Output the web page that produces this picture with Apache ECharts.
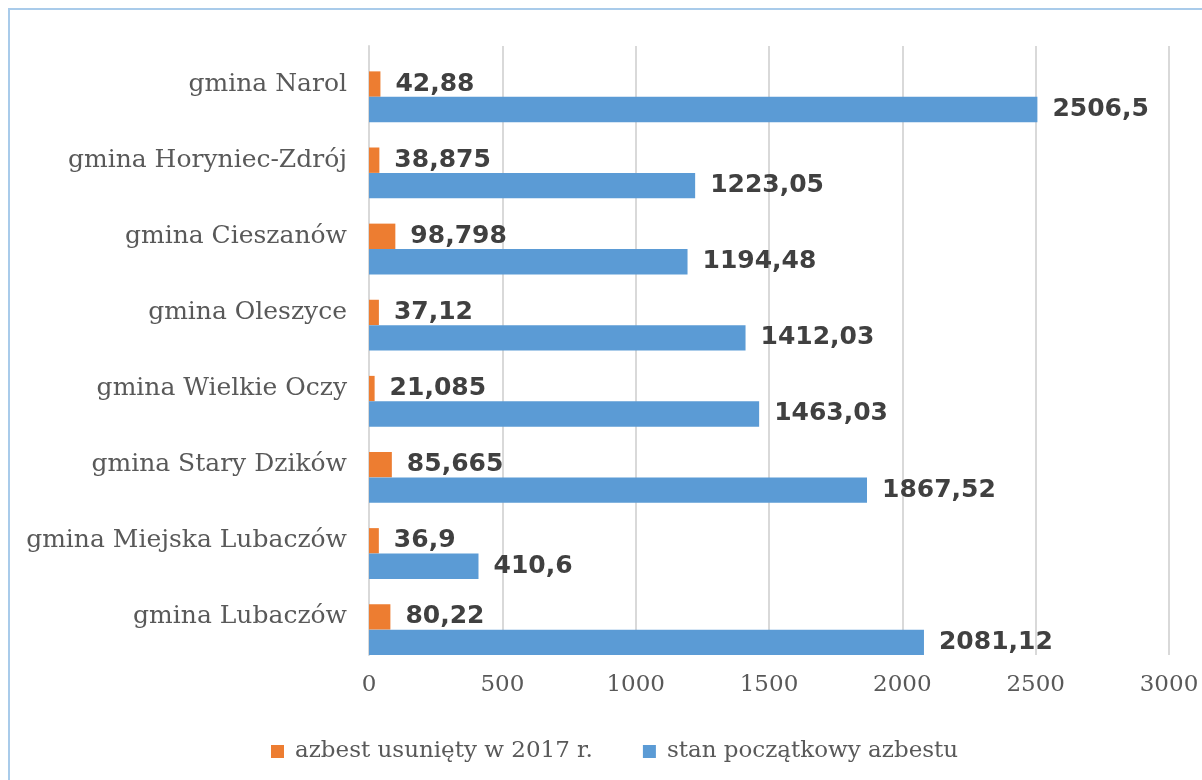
<!DOCTYPE html>
<html>
<head>
<meta charset="utf-8">
<script src="https://cdn.jsdelivr.net/npm/echarts@6/dist/echarts.min.js"></script>
<style>
html,body{margin:0;padding:0;background:#fff;}
#main{width:1202px;height:780px;}
</style>
</head>
<body>
<div id="main"></div>
<script>
const categories = ['gmina Lubaczów','gmina Miejska Lubaczów','gmina Stary Dzików','gmina Wielkie Oczy','gmina Oleszyce','gmina Cieszanów','gmina Horyniec-Zdrój','gmina Narol'];
const removed2017 = [80.22, 36.9, 85.665, 21.085, 37.12, 98.798, 38.875, 42.88];
const initialStock = [2081.12, 410.6, 1867.52, 1463.03, 1412.03, 1194.48, 1223.05, 2506.5];
const seriesNames = ['azbest usunięty w 2017 r.', 'stan początkowy azbestu'];
const xTicks = {min: 0, max: 3000, interval: 500};

const chart = echarts.init(document.getElementById('main'), null, {renderer: 'canvas'});
const serif = '"DejaVu Serif", serif';
const labelStyle = {
  show: true, position: 'right', distance: 15,
  color: '#404040', fontWeight: 'bold', fontSize: 25, fontFamily: '"DejaVu Sans", sans-serif',
  formatter: p => String(p.value).replace('.', ',')
};
chart.setOption({
  animation: false,
  graphic: [{
    type: 'rect', shape: {x: 9, y: 9, width: 1300, height: 900},
    style: {fill: 'none', stroke: '#A9CBEA', lineWidth: 2}, silent: true
  }],
  grid: {left: 369, right: 33, top: 46, bottom: 125, containLabel: false},
  legend: {
    bottom: 12, left: 266, itemWidth: 13, itemHeight: 13, itemGap: 50,
    icon: 'rect',
    data: seriesNames,
    textStyle: {color: '#595959', fontSize: 23, fontFamily: serif, padding: [0, 0, 0, 6]}
  },
  xAxis: {
    type: 'value', min: xTicks.min, max: xTicks.max, interval: xTicks.interval,
    axisLine: {show: false}, axisTick: {show: false},
    splitLine: {lineStyle: {color: '#D9D9D9', width: 2}},
    axisLabel: {color: '#595959', fontSize: 23, fontFamily: serif, margin: 19, formatter: v => String(v)}
  },
  yAxis: {
    type: 'category', data: categories,
    axisLine: {show: true, lineStyle: {color: '#D9D9D9', width: 2}},
    axisTick: {show: false},
    axisLabel: {color: '#595959', fontSize: 25, fontFamily: serif, margin: 22}
  },
  series: [
    {name: 'spacer', type: 'bar', data: categories.map(() => null), barGap: '0%', barCategoryGap: '0%'},
    {name: seriesNames[0], type: 'bar', data: removed2017, barGap: '0%', barCategoryGap: '0%',
     itemStyle: {color: '#ED7D31'}, label: labelStyle},
    {name: seriesNames[1], type: 'bar', data: initialStock, barGap: '0%', barCategoryGap: '0%',
     itemStyle: {color: '#5B9BD5'}, label: labelStyle}
  ]
});
</script>
</body>
</html>
